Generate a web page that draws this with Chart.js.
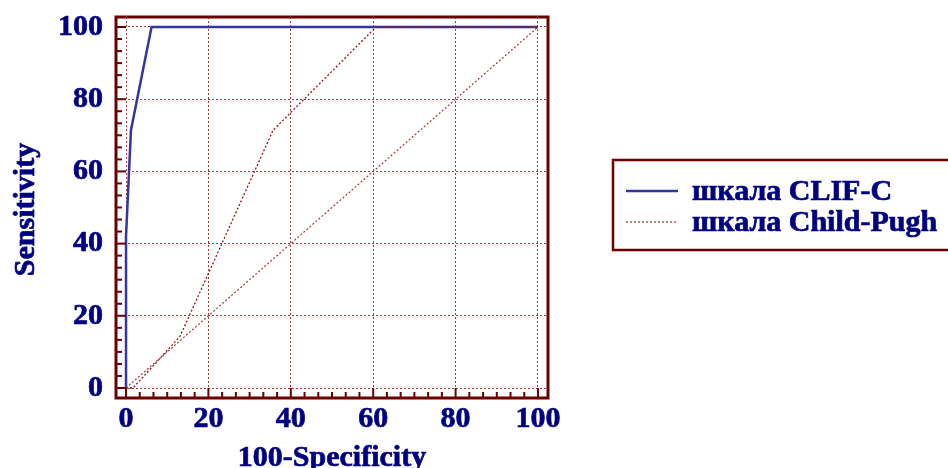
<!DOCTYPE html>
<html>
<head>
<meta charset="utf-8">
<script src="https://cdn.jsdelivr.net/npm/chart.js@4.4.0/dist/chart.umd.min.js"></script>
<style>
html,body{margin:0;padding:0;background:#fff;}
#wrap{width:948px;height:468px;position:relative;}
</style>
</head>
<body>
<div id="wrap"><canvas id="c" width="948" height="468"></canvas></div>
<script>
// ---- data ----
const xTicks = [0, 20, 40, 60, 80, 100];
const yTicks = [0, 20, 40, 60, 80, 100];
const clifX = [0, 0, 1.2, 6.2, 100];
const clifY = [0, 42, 71.4, 100, 100];
const childX = [0, 1.7, 13.1, 35.7, 60.7, 100];
const childY = [0, 0, 14.3, 71.4, 100, 100];
const diagX = [0, 100];
const diagY = [0, 100];
const seriesNames = ['шкала CLIF-C', 'шкала Child-Pugh'];
const xTitle = '100-Specificity';
const yTitle = 'Sensitivity';

const toPts = (xs, ys) => xs.map((x, i) => ({x: x, y: ys[i]}));

const FONT = '"Liberation Serif", "Times New Roman", serif';
const NAVY = '#000080';
const FRAME = '#6b0000';
const GRID = '#a33a3a';
const BLUE = '#3535a0';
const STROKE = 0.7;

function boldText(ctx, s, x, y) {
  ctx.fillText(s, x, y);
  ctx.strokeText(s, x, y);
}

const framePlugin = {
  id: 'frame',
  afterDraw(chart) {
    const ctx = chart.ctx, a = chart.chartArea;
    const xs = chart.scales.x, ys = chart.scales.y;
    ctx.save();
    // frame
    ctx.strokeStyle = FRAME;
    ctx.lineWidth = 3;
    ctx.strokeRect(a.left, a.top, a.right - a.left, a.bottom - a.top);
    // inward ticks on left and bottom
    ctx.lineWidth = 2;
    const step = 20 / 6;
    for (let k = 0; k <= 30; k++) {
      const v = k * step;
      const major = k % 6 === 0;
      const len = major ? 10 : 6;
      const px = xs.getPixelForValue(v);
      ctx.beginPath(); ctx.moveTo(px, a.bottom); ctx.lineTo(px, a.bottom - len); ctx.stroke();
      const py = ys.getPixelForValue(v);
      ctx.beginPath(); ctx.moveTo(a.left, py); ctx.lineTo(a.left + len, py); ctx.stroke();
    }
    // axis titles
    ctx.fillStyle = NAVY;
    ctx.strokeStyle = NAVY;
    ctx.lineWidth = STROKE;
    ctx.font = 'bold 30px ' + FONT;
    ctx.textAlign = 'center';
    ctx.textBaseline = 'alphabetic';
    boldText(ctx, xTitle, (a.left + a.right) / 2, 466);
    ctx.save();
    ctx.translate(34, (a.top + a.bottom) / 2 + 2);
    ctx.rotate(-Math.PI / 2);
    boldText(ctx, yTitle, 0, 0);
    ctx.restore();
    // legend
    ctx.strokeStyle = FRAME;
    ctx.lineWidth = 2.5;
    ctx.strokeRect(613, 160, 360, 90);
    ctx.strokeStyle = BLUE; ctx.lineWidth = 2.5; ctx.setLineDash([]);
    ctx.beginPath(); ctx.moveTo(626, 191); ctx.lineTo(678, 191); ctx.stroke();
    ctx.strokeStyle = GRID; ctx.lineWidth = 1.2; ctx.setLineDash([2, 2]);
    ctx.beginPath(); ctx.moveTo(626, 222); ctx.lineTo(678, 222); ctx.stroke();
    ctx.setLineDash([]);
    ctx.font = 'bold 30px ' + FONT;
    ctx.textAlign = 'left';
    ctx.strokeStyle = NAVY;
    ctx.lineWidth = STROKE;
    boldText(ctx, seriesNames[0], 692, 200);
    boldText(ctx, seriesNames[1], 692, 231);
    ctx.restore();
  }
};

const tickFont = {family: FONT, size: 30, weight: 'bold'};

new Chart(document.getElementById('c'), {
  type: 'scatter',
  data: {
    datasets: [
      {label: 'diag', data: toPts(diagX, diagY), showLine: true, borderColor: GRID, borderWidth: 1.2, borderDash: [2, 2], pointRadius: 0},
      {label: seriesNames[1], data: toPts(childX, childY), showLine: true, borderColor: '#8b1a1a', borderWidth: 1.3, borderDash: [2, 2], pointRadius: 0},
      {label: seriesNames[0], data: toPts(clifX, clifY), showLine: true, borderColor: BLUE, borderWidth: 2.5, pointRadius: 0}
    ]
  },
  options: {
    responsive: false,
    animation: false,
    events: [],
    layout: {padding: {left: 0, top: 17, right: 400, bottom: 0}},
    plugins: {legend: {display: false}, tooltip: {enabled: false}},
    scales: {
      x: {
        type: 'linear', min: -2.43, max: 102.43,
        afterBuildTicks(s) { s.ticks = xTicks.map(v => ({value: v})); },
        afterFit(s) { s.height = 70; s.paddingLeft = 0; s.paddingRight = 0; },
        grid: {color: GRID, lineWidth: 1, drawTicks: false},
        border: {display: false, dash: [2, 2]},
        ticks: {color: NAVY, font: tickFont, padding: 3, maxRotation: 0, autoSkip: false, textStrokeColor: NAVY, textStrokeWidth: STROKE}
      },
      y: {
        type: 'linear', min: -2.77, max: 102.77,
        afterBuildTicks(s) { s.ticks = yTicks.map(v => ({value: v})); },
        afterFit(s) { s.width = 116; s.paddingTop = 0; s.paddingBottom = 0; },
        grid: {color: GRID, lineWidth: 1, drawTicks: false},
        border: {display: false, dash: [2, 2]},
        ticks: {color: NAVY, font: tickFont, padding: 13, autoSkip: false, textStrokeColor: NAVY, textStrokeWidth: STROKE}
      }
    }
  },
  plugins: [framePlugin]
});
</script>
</body>
</html>
